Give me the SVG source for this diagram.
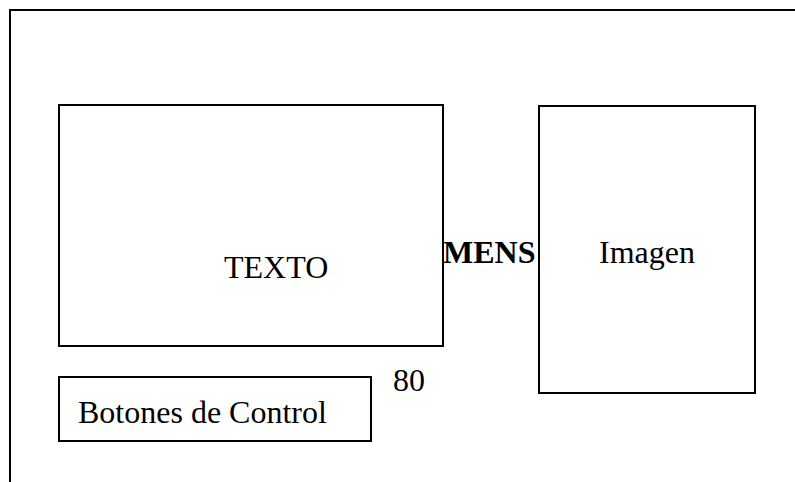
<svg xmlns="http://www.w3.org/2000/svg" width="795" height="482" viewBox="0 0 795 482">
<style>
.box{fill:none;stroke:#000;stroke-width:2}
.t{font-family:"Liberation Serif","Times New Roman",serif;font-size:32px;fill:#000}
.b{font-weight:bold}
</style>
<rect width="795" height="482" fill="#fff"/>
<g id="frame"><polyline class="box" points="10,482 10,10 795,10"/></g>
<g id="texto"><rect class="box" x="59" y="105" width="384" height="241"/><text class="t" x="224" y="278">TEXTO</text></g>
<g id="mens"><text class="t b" x="443" y="263">MENS</text></g>
<g id="imagen"><rect class="box" x="539" y="106" width="216" height="287"/><text class="t" x="599" y="263">Imagen</text></g>
<g id="botones"><rect class="box" x="59" y="377" width="312" height="64"/><text class="t" x="78" y="423">Botones de Control</text></g>
<g id="n80"><text class="t" x="393" y="391">80</text></g>
<g id="connectors"/>
</svg>
